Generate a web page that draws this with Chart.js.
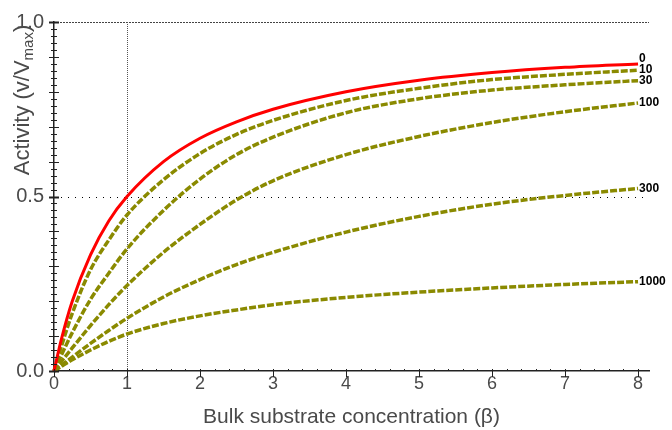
<!DOCTYPE html>
<html>
<head>
<meta charset="utf-8">
<script src="https://cdn.jsdelivr.net/npm/chart.js@4/dist/chart.umd.min.js"></script>
<style>
  body { margin: 0; background: #fff; }
  canvas { display: block; }
</style>
</head>
<body>
<canvas id="activityChart" width="672" height="430"></canvas>
<script>
// bulk substrate concentration (beta)
const betaValues = [0, 0.1, 0.25, 0.5, 0.75, 1, 1.5, 2, 2.5, 3, 4, 5, 6, 7, 8];

// activity v/Vmax for each curve
const curve0    = [0, 0.09, 0.2, 0.333, 0.43, 0.5, 0.6, 0.667, 0.714, 0.75, 0.8, 0.833, 0.855, 0.87, 0.88];
const curve10   = [0, 0.07, 0.165, 0.29, 0.375, 0.447, 0.548, 0.623, 0.678, 0.718, 0.775, 0.81, 0.835, 0.85, 0.862];
const curve30   = [0, 0.045, 0.11, 0.205, 0.28, 0.35, 0.46, 0.55, 0.62, 0.67, 0.74, 0.78, 0.805, 0.82, 0.832];
const curve100  = [0, 0.027, 0.066, 0.13, 0.19, 0.245, 0.34, 0.42, 0.49, 0.545, 0.62, 0.672, 0.712, 0.743, 0.768];
const curve300  = [0, 0.016, 0.04, 0.079, 0.116, 0.151, 0.212, 0.262, 0.305, 0.34, 0.398, 0.443, 0.478, 0.503, 0.523];
const curve1000 = [0, 0.013, 0.032, 0.06, 0.085, 0.106, 0.136, 0.158, 0.175, 0.19, 0.211, 0.226, 0.238, 0.248, 0.256];

const seriesLabels = ["0", "10", "30", "100", "300", "1000"];
const seriesValues = [curve0, curve10, curve30, curve100, curve300, curve1000];

const xTicks = [0, 1, 2, 3, 4, 5, 6, 7, 8];
const yTicks = [0, 0.5, 1.0];

const TEXT = "#4a4a4a";
const OLIVE = "#8a8a00";

/* dotted reference lines */
const refLines = {
  id: "refLines",
  beforeDatasetsDraw(chart) {
    const { ctx, chartArea: a, scales: { x, y } } = chart;
    ctx.save();
    ctx.lineWidth = 1;

    ctx.strokeStyle = "#444";
    ctx.setLineDash([2, 1]);
    ctx.beginPath();
    ctx.moveTo(a.left, Math.round(y.getPixelForValue(1)) + 0.5);
    ctx.lineTo(a.right, Math.round(y.getPixelForValue(1)) + 0.5);
    ctx.stroke();

    ctx.strokeStyle = "#555";
    ctx.setLineDash([1, 1]);
    ctx.beginPath();
    ctx.moveTo(Math.round(x.getPixelForValue(1)) + 0.5, a.top);
    ctx.lineTo(Math.round(x.getPixelForValue(1)) + 0.5, a.bottom);
    ctx.stroke();

    ctx.strokeStyle = "#000";
    ctx.setLineDash([1, 6]);
    ctx.beginPath();
    ctx.moveTo(a.left, Math.round(y.getPixelForValue(0.5)) + 0.5);
    ctx.lineTo(a.right, Math.round(y.getPixelForValue(0.5)) + 0.5);
    ctx.stroke();
    ctx.restore();
  }
};

/* tick marks, curve labels and y title */
const decorations = {
  id: "decorations",
  afterDraw(chart) {
    const { ctx, chartArea: a, scales: { x, y } } = chart;
    ctx.save();
    ctx.strokeStyle = "#222";
    ctx.lineWidth = 1;

    // y axis crosses
    for (let i = 0; i <= 50; i++) {
      const py = Math.round(y.getPixelForValue(i / 50)) + 0.5;
      const len = i % 5 === 0 ? 5 : 3;
      ctx.lineWidth = i % 25 === 0 ? 2 : 1;
      ctx.beginPath();
      ctx.moveTo(a.left - len, py);
      ctx.lineTo(a.left + len, py);
      ctx.stroke();
    }

    // x axis ticks
    ctx.lineWidth = 1;
    for (let i = 0; i <= 40; i++) {
      const px = Math.round(x.getPixelForValue(i / 5)) + 0.5;
      const major = i % 5 === 0;
      ctx.beginPath();
      ctx.moveTo(px, a.bottom - 2);
      ctx.lineTo(px, a.bottom + (major ? 6 : 0));
      ctx.stroke();
    }

    // labels at the end of each curve
    ctx.fillStyle = "#000";
    ctx.font = "bold 12px 'Liberation Sans', Arial, sans-serif";
    ctx.textAlign = "left";
    chart.data.datasets.forEach((ds, i) => {
      const pts = chart.getDatasetMeta(i).data;
      const last = pts[pts.length - 1];
      ctx.textBaseline = i === 0 ? "bottom" : "middle";
      ctx.fillText(seriesLabels[i], last.x + 1, last.y + (i === 0 ? 1 : 0));
    });

    // y axis title with subscript
    const big = "22px 'Liberation Sans', Arial, sans-serif";
    const small = "15px 'Liberation Sans', Arial, sans-serif";
    const part1 = "Activity (v/V", part2 = "max", part3 = ")";
    ctx.font = big;
    const w1 = ctx.measureText(part1).width;
    const w3 = ctx.measureText(part3).width;
    ctx.font = small;
    const w2 = ctx.measureText(part2).width;
    const total = w1 + w2 + w3;
    ctx.translate(29, 100);
    ctx.rotate(-Math.PI / 2);
    ctx.fillStyle = TEXT;
    ctx.textBaseline = "alphabetic";
    ctx.font = big;
    ctx.fillText(part1, -total / 2, 0);
    ctx.font = small;
    ctx.fillText(part2, -total / 2 + w1, 4);
    ctx.font = big;
    ctx.fillText(part3, -total / 2 + w1 + w2, 0);
    ctx.restore();
  }
};

function drawActivityChart() {
  const ctx = document.getElementById("activityChart").getContext("2d");

  const datasets = seriesValues.map((vals, i) => ({
    label: seriesLabels[i],
    data: vals.map((v, j) => ({ x: betaValues[j], y: v })),
    borderColor: i === 0 ? "#ff0000" : OLIVE,
    borderWidth: i === 0 ? 3 : 3.5,
    borderDash: i === 0 ? [] : [7, 2],
    pointRadius: 0,
    fill: false,
    cubicInterpolationMode: "monotone",
    clip: false
  }));

  new Chart(ctx, {
    type: "line",
    data: { datasets },
    plugins: [refLines, decorations],
    options: {
      responsive: false,
      animation: false,
      layout: { padding: { top: 21, right: 23, left: 0, bottom: 0 } },
      plugins: { legend: { display: false }, tooltip: { enabled: false } },
      scales: {
        x: {
          type: "linear",
          min: 0,
          max: 8.15,
          afterBuildTicks: axis => { axis.ticks = xTicks.map(v => ({ value: v })); },
          afterFit: axis => { axis.height = 59; },
          grid: { display: false, drawTicks: false },
          border: { display: true, color: "#222", width: 1.5 },
          ticks: {
            color: TEXT,
            font: { size: 18, family: "'Liberation Sans', Arial, sans-serif" },
            padding: 2,
            maxRotation: 0,
            autoSkip: false,
            callback: v => String(v)
          },
          title: {
            display: true,
            text: "Bulk substrate concentration (β)",
            color: TEXT,
            font: { size: 21, family: "'Liberation Sans', Arial, sans-serif" },
            padding: { top: 4, bottom: 0 }
          }
        },
        y: {
          min: 0,
          max: 1,
          afterBuildTicks: axis => { axis.ticks = yTicks.map(v => ({ value: v })); },
          afterFit: axis => { axis.width = 54; },
          grid: { display: false, drawTicks: false },
          border: { display: true, color: "#222", width: 1.5 },
          ticks: {
            color: TEXT,
            font: { size: 20, family: "'Liberation Sans', Arial, sans-serif" },
            padding: 10,
            callback: v => v.toFixed(1)
          }
        }
      }
    }
  });
}

drawActivityChart();
</script>
</body>
</html>
